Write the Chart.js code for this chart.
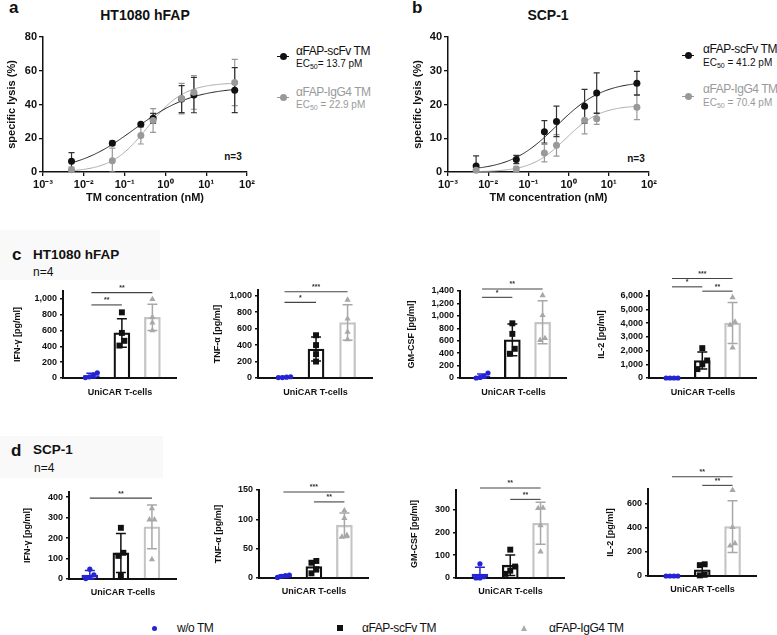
<!DOCTYPE html>
<html>
<head>
<meta charset="utf-8">
<title>UniCAR lysis and cytokine release</title>
<script src="https://cdn.jsdelivr.net/npm/chart.js@4.4.1/dist/chart.umd.min.js"></script>
<style>
  body { margin: 0; background: #fff; }
  #fig { position: relative; width: 777px; height: 635px; overflow: hidden; font-family: "Liberation Sans", Arial, sans-serif; color: #111; }
  #fig canvas { position: absolute; }
  .lbl { position: absolute; white-space: nowrap; line-height: 1; transform: translateY(-50%); }
  .mid { transform: translate(-50%, -50%); }
  .b { font-weight: bold; }
  .gray { color: #9a9a9a; }
  .leg { font-size: 12px; letter-spacing: -0.45px; }
  sub { font-size: 70%; vertical-align: -2px; line-height: 0; }
  .mk { position: absolute; }
  .hdr { position: absolute; background: #f9f9f9; }
</style>
</head>
<body>
<div id="fig">
  <div class="hdr" style="left:0;top:230px;width:160px;height:50px"></div>
  <div class="hdr" style="left:0;top:436px;width:163px;height:42px"></div>

  <!-- panel a -->
  <div class="lbl b" style="left:9px;top:7px;font-size:17px">a</div>
  <div class="lbl mid b" style="left:145px;top:15px;font-size:14px">HT1080 hFAP</div>
  <div class="mk" style="left:277px;top:56px;width:12px;height:1px;background:#111"></div>
  <div class="mk" style="left:280px;top:53px;width:7px;height:7px;border-radius:50%;background:#111"></div>
  <div class="lbl leg" style="left:296px;top:51px">αFAP-scFv TM</div>
  <div class="lbl" style="left:296px;top:64px;font-size:10px">EC<sub>50</sub>= 13.7 pM</div>
  <div class="mk" style="left:277px;top:97px;width:12px;height:1px;background:#999"></div>
  <div class="mk" style="left:280px;top:94px;width:7px;height:7px;border-radius:50%;background:#999"></div>
  <div class="lbl leg gray" style="left:296px;top:92px">αFAP-IgG4 TM</div>
  <div class="lbl gray" style="left:296px;top:105px;font-size:10px">EC<sub>50</sub> = 22.9 pM</div>
  <div class="lbl mid b" style="left:233px;top:157px;font-size:10px">n=3</div>

  <!-- panel b -->
  <div class="lbl b" style="left:412px;top:7px;font-size:17px">b</div>
  <div class="lbl mid b" style="left:548px;top:15px;font-size:14px">SCP-1</div>
  <div class="mk" style="left:682px;top:55px;width:12px;height:1px;background:#111"></div>
  <div class="mk" style="left:685px;top:52px;width:7px;height:7px;border-radius:50%;background:#111"></div>
  <div class="lbl leg" style="left:703px;top:49px">αFAP-scFv TM</div>
  <div class="lbl" style="left:703px;top:63px;font-size:10px">EC<sub>50</sub> = 41.2 pM</div>
  <div class="mk" style="left:682px;top:96px;width:12px;height:1px;background:#999"></div>
  <div class="mk" style="left:685px;top:93px;width:7px;height:7px;border-radius:50%;background:#999"></div>
  <div class="lbl leg gray" style="left:703px;top:89px">αFAP-IgG4 TM</div>
  <div class="lbl gray" style="left:703px;top:103px;font-size:10px">EC<sub>50</sub> = 70.4 pM</div>
  <div class="lbl mid b" style="left:636px;top:159px;font-size:10px">n=3</div>

  <!-- panel c / d headers -->
  <div class="lbl b" style="left:12px;top:254px;font-size:17px">c</div>
  <div class="lbl b" style="left:33px;top:255px;font-size:13.5px">HT1080 hFAP</div>
  <div class="lbl" style="left:33px;top:272px;font-size:12px">n=4</div>
  <div class="lbl b" style="left:11px;top:450px;font-size:17px">d</div>
  <div class="lbl b" style="left:33px;top:450px;font-size:13.5px">SCP-1</div>
  <div class="lbl" style="left:34px;top:468px;font-size:12px">n=4</div>

  <!-- shared legend -->
  <div class="mk" style="left:152px;top:626px;width:5px;height:5px;border-radius:50%;background:#2424d4"></div>
  <div class="lbl leg" style="left:177px;top:628px">w/o TM</div>
  <div class="mk" style="left:337px;top:625px;width:6px;height:6px;background:#111"></div>
  <div class="lbl leg" style="left:362px;top:628px">αFAP-scFv TM</div>
  <div class="mk" style="left:521px;top:625px;width:0;height:0;border-left:3.5px solid transparent;border-right:3.5px solid transparent;border-bottom:6px solid #aaa"></div>
  <div class="lbl leg" style="left:549px;top:628px">αFAP-IgG4 TM</div>
</div>

<script>
// ---- dose response (specific lysis, %) ----
const doses = [0.005, 0.05, 0.25, 0.5, 2.5, 5, 50];
const xTickValues = [0.001, 0.01, 0.1, 1, 10, 100];
const xTickLabels = ['10⁻³', '10⁻²', '10⁻¹', '10⁰', '10¹', '10²'];

const htScfv = [6.3, 17.1, 28.3, 31.8, 43.2, 45.6, 48.5];
const htScfvSd = [5.2, 1.2, 1.0, 3.0, 8.0, 10.5, 13.3];
const htIgg4 = [1.4, 6.7, 21.6, 30.5, 43.5, 47.2, 53.0];
const htIgg4Sd = [1.5, 7.4, 5.0, 7.0, 9.0, 10.0, 13.7];

const scpScfv = [1.8, 3.7, 11.9, 15.0, 19.5, 23.4, 26.3];
const scpScfvSd = [3.0, 1.2, 3.3, 4.5, 5.0, 6.0, 3.5];
const scpIgg4 = [0.5, 0.9, 5.6, 7.9, 15.3, 15.8, 19.2];
const scpIgg4Sd = [1.0, 0.8, 2.6, 3.2, 4.0, 1.7, 3.7];

// 4PL fits: bottom, top, EC50 (nM), hill slope
const htScfvFit = [0, 50.5, 0.17, 0.6];
const htIgg4Fit = [0, 53, 0.365, 0.97];
const scpScfvFit = [0.3, 27, 0.5, 0.75];
const scpIgg4Fit = [0, 19.8, 0.85, 1.0];

// ---- cytokines (pg/ml), 4 donors per group ----
const groups = ['w/o TM', 'αFAP-scFv TM', 'αFAP-IgG4 TM'];

const htIfn = [[5, 15, 40, 65], [830, 570, 470, 410], [995, 770, 700, 600]];
const htIfnSd = [30, 180, 165];
const htTnf = [[5, 15, 10, 5], [520, 400, 290, 200], [950, 720, 560, 470]];
const htTnfSd = [10, 145, 215];
const htGm = [[0, 25, 80, 10], [880, 710, 470, 390], [1330, 1010, 640, 610]];
const htGmSd = [35, 255, 345];
const htIl2 = [[0, 0, 0, 0], [2180, 1280, 1000, 650], [5880, 4100, 3870, 2220]];
const htIl2Sd = [0, 620, 1500];

const scpIfn = [[48, 20, 8, 2], [250, 128, 113, 18], [345, 290, 290, 95]];
const scpIfnSd = [22, 95, 107];
const scpTnf = [[1, 4, 5, 3], [29, 26, 15, 8], [115, 102, 73, 70]];
const scpTnfSd = [2, 9, 21];
const scpGm = [[62, 0, 0, 6], [124, 50, 32, 18], [307, 305, 230, 115]];
const scpGmSd = [30, 45, 92];
const scpIl2 = [[0, 0, 0, 0], [97, 90, 10, 5], [711, 403, 270, 250]];
const scpIl2Sd = [0, 48, 215];

// significance brackets: [from group, to group, level (pg/ml), label]
const htIfnSig = [[0, 2, 1080, '**'], [0, 1, 924, '**']];
const htTnfSig = [[0, 2, 1049, '***'], [0, 1, 919, '*']];
const htGmSig = [[0, 2, 1432, '**'], [0, 1, 1298, '*']];
const htIl2Sig = [[0, 2, 7258, '***'], [0, 1, 6654, '*'], [1, 2, 6339, '**']];
const scpIfnSig = [[0, 2, 395, '**']];
const scpTnfSig = [[0, 2, 146.5, '***'], [1, 2, 129.7, '**']];
const scpGmSig = [[0, 2, 394, '**'], [1, 2, 344, '**']];
const scpIl2Sig = [[0, 2, 822, '**'], [1, 2, 750, '**']];

const groupColors = ['#2424d4', '#111111', '#c4c4c4'];
const markColors = ['#2424d4', '#111111', '#a8a8a8'];
const markStyles = ['circle', 'rect', 'triangle'];
const markSizes = [2.6, 4.2, 3.6];
const FONT = '"Liberation Sans", Arial, sans-serif';

function addCanvas(box) {
    const c = document.createElement('canvas');
    const w = box.r - box.l + box.yw + box.padR;
    const h = box.b - box.t + box.padT + box.xh;
    c.width = w; c.height = h;
    c.style.width = w + 'px'; c.style.height = h + 'px';
    c.style.left = (box.l - box.yw) + 'px';
    c.style.top = (box.t - box.padT) + 'px';
    document.getElementById('fig').appendChild(c);
    return c;
}

const hill = (p, x) => p[0] + (p[1] - p[0]) / (1 + Math.pow(p[2] / x, p[3]));
const mean = a => a.reduce((s, v) => s + v, 0) / a.length;

// fitted curves + error bars, drawn under the points
function doseRespPlugin(series) {
    return {
        id: 'doseResp',
        beforeDatasetsDraw(chart) {
            const { ctx, scales: { x, y } } = chart;
            const lo = Math.log10(doses[0]), hi = Math.log10(doses[doses.length - 1]);
            series.forEach(s => {
                ctx.save();
                ctx.strokeStyle = s.line;
                ctx.lineWidth = 1;
                ctx.beginPath();
                for (let i = 0; i <= 150; i++) {
                    const xv = Math.pow(10, lo + (hi - lo) * i / 150);
                    const px = x.getPixelForValue(xv), py = y.getPixelForValue(hill(s.fit, xv));
                    if (i) ctx.lineTo(px, py); else ctx.moveTo(px, py);
                }
                ctx.stroke();
                ctx.strokeStyle = s.err;
                ctx.lineWidth = 1.2;
                s.vals.forEach((m, i) => {
                    const px = x.getPixelForValue(doses[i]);
                    const y1 = y.getPixelForValue(m + s.sd[i]), y2 = y.getPixelForValue(Math.max(m - s.sd[i], 0));
                    ctx.beginPath();
                    ctx.moveTo(px, y1); ctx.lineTo(px, y2);
                    ctx.moveTo(px - 3, y1); ctx.lineTo(px + 3, y1);
                    ctx.moveTo(px - 3, y2); ctx.lineTo(px + 3, y2);
                    ctx.stroke();
                });
                ctx.restore();
            });
        }
    };
}

function doseRespChart(box, series, yMax, yStep) {
    const canvas = addCanvas(box);
    const axisFont = { family: FONT, size: 11, weight: 'bold' };
    new Chart(canvas, {
        type: 'scatter',
        data: {
            datasets: series.map(s => ({
                data: doses.map((d, i) => ({ x: d, y: s.vals[i] })),
                backgroundColor: s.dot, borderColor: s.dot, borderWidth: 0,
                pointRadius: 3.5, clip: false
            }))
        },
        options: {
            responsive: false, animation: false, events: [], locale: 'en-US',
            layout: { padding: { top: box.padT, right: box.padR, left: 0, bottom: 0 } },
            plugins: { legend: { display: false }, tooltip: { enabled: false } },
            scales: {
                x: {
                    type: 'logarithmic', min: xTickValues[0], max: xTickValues[xTickValues.length - 1],
                    afterBuildTicks: s => { s.ticks = xTickValues.map(v => ({ value: v })); },
                    ticks: { callback: v => xTickLabels[xTickValues.indexOf(v)], font: axisFont, color: '#111', padding: 2, maxRotation: 0, autoSkip: false },
                    grid: { drawOnChartArea: false, tickLength: 4, color: '#111', lineWidth: 1.3 },
                    border: { color: '#111', width: 1.5 },
                    title: { display: true, text: 'TM concentration (nM)', font: axisFont, color: '#111', padding: 0 },
                    afterFit: s => { s.height = box.xh; }
                },
                y: {
                    min: 0, max: yMax,
                    ticks: { stepSize: yStep, font: axisFont, color: '#111', padding: 2, autoSkip: false },
                    grid: { drawOnChartArea: false, tickLength: 4, color: '#111', lineWidth: 1.3 },
                    border: { color: '#111', width: 1.5 },
                    title: { display: true, text: 'specific lysis (%)', font: axisFont, color: '#111', padding: 0 },
                    afterFit: s => { s.width = box.yw; }
                }
            }
        },
        plugins: [doseRespPlugin(series)]
    });
}

// spread overlapping replicates sideways, like a scatter dot plot
function spread(vals, yMax, gap) {
    const idx = vals.map((v, i) => i).sort((p, q) => vals[p] - vals[q]);
    const off = vals.map(() => 0);
    let cluster = [idx[0]];
    const flush = () => cluster.forEach((k, n) => { off[k] = (n - (cluster.length - 1) / 2) * gap; });
    for (let n = 1; n < idx.length; n++) {
        if (vals[idx[n]] - vals[idx[n - 1]] < 0.06 * yMax) cluster.push(idx[n]);
        else { flush(); cluster = [idx[n]]; }
    }
    flush();
    return off;
}

function cytoPlugin(means, sd, sig) {
    return {
        id: 'cyto',
        afterDatasetDraw(chart, args) {
            if (args.meta.type !== 'bar') return;
            const { ctx, scales: { x, y } } = chart;
            ctx.save();
            ctx.lineWidth = 1.5;
            means.forEach((m, g) => {
                if (!sd[g]) return;
                const px = x.getPixelForValue(g);
                const y1 = y.getPixelForValue(m + sd[g]), y2 = y.getPixelForValue(Math.max(m - sd[g], 0));
                ctx.strokeStyle = markColors[g];
                ctx.beginPath();
                ctx.moveTo(px, y1); ctx.lineTo(px, y2);
                ctx.moveTo(px - 5, y1); ctx.lineTo(px + 5, y1);
                ctx.moveTo(px - 5, y2); ctx.lineTo(px + 5, y2);
                ctx.stroke();
            });
            ctx.restore();
        },
        afterDraw(chart) {
            const { ctx, scales: { x, y } } = chart;
            ctx.save();
            ctx.strokeStyle = '#444';
            ctx.fillStyle = '#333';
            ctx.lineWidth = 1.1;
            ctx.font = 'bold 7px ' + FONT;
            ctx.textAlign = 'center';
            ctx.textBaseline = 'bottom';
            sig.forEach(([a, b, lvl, txt]) => {
                const x1 = x.getPixelForValue(a), x2 = x.getPixelForValue(b), py = y.getPixelForValue(lvl);
                ctx.beginPath();
                ctx.moveTo(x1, py); ctx.lineTo(x2, py);
                ctx.stroke();
                ctx.fillText(txt, (x1 + x2) / 2, py - 1);
            });
            ctx.restore();
        }
    };
}

function cytoChart(box, reps, sd, sig, yMax, yStep, yTitle) {
    const canvas = addCanvas(box);
    const means = reps.map(mean);
    const tickFont = { family: FONT, size: 9, weight: 'bold' };
    const gaps = [0.13, 0.16, 0.16];
    const points = reps.map((vals, g) => {
        const off = spread(vals, yMax, gaps[g]);
        return {
            type: 'scatter',
            data: vals.map((v, j) => ({ x: g + off[j], y: v })),
            pointStyle: markStyles[g], pointRadius: markSizes[g],
            backgroundColor: markColors[g], borderColor: markColors[g], borderWidth: 0,
            order: 1, clip: false
        };
    });
    new Chart(canvas, {
        type: 'bar',
        data: {
            datasets: [{
                type: 'bar', label: 'mean',
                data: means.map((m, g) => ({ x: g, y: m })),
                backgroundColor: 'rgba(255,255,255,0)', borderColor: groupColors,
                borderWidth: 1.6, barThickness: 16, order: 2
            }].concat(points)
        },
        options: {
            responsive: false, animation: false, events: [], locale: 'en-US',
            layout: { padding: { top: box.padT, right: box.padR, left: 0, bottom: 0 } },
            plugins: { legend: { display: false }, tooltip: { enabled: false } },
            scales: {
                x: {
                    type: 'linear', min: box.xmin, max: 2.8, offset: false,
                    ticks: { display: false },
                    grid: { display: false, offset: false },
                    border: { color: '#111', width: 2 },
                    title: { display: true, text: 'UniCAR T-cells', font: tickFont, color: '#111', padding: 0 },
                    afterFit: s => { s.height = box.xh; }
                },
                y: {
                    min: 0, max: yMax,
                    afterBuildTicks: s => {
                        const t = [];
                        for (let v = 0; v <= yMax; v += yStep) t.push({ value: v });
                        s.ticks = t;
                    },
                    ticks: { font: tickFont, color: '#111', padding: 3, autoSkip: false },
                    grid: { drawOnChartArea: false, tickLength: 3, color: '#111', lineWidth: 1.5 },
                    border: { color: '#111', width: 2 },
                    title: { display: true, text: yTitle, font: tickFont, color: '#111', padding: 0 },
                    afterFit: s => { s.width = box.yw; }
                }
            }
        },
        plugins: [cytoPlugin(means, sd, sig)]
    });
}

doseRespChart({ l: 43, t: 37, r: 247, b: 172, yw: 38, xh: 33, padT: 10, padR: 14 }, [
    { vals: htIgg4, sd: htIgg4Sd, fit: htIgg4Fit, dot: '#999', line: '#aaa', err: '#999' },
    { vals: htScfv, sd: htScfvSd, fit: htScfvFit, dot: '#111', line: '#222', err: '#333' }
], 80, 20);

doseRespChart({ l: 448, t: 37, r: 649, b: 172, yw: 37, xh: 33, padT: 10, padR: 14 }, [
    { vals: scpIgg4, sd: scpIgg4Sd, fit: scpIgg4Fit, dot: '#999', line: '#aaa', err: '#999' },
    { vals: scpScfv, sd: scpScfvSd, fit: scpScfvFit, dot: '#111', line: '#222', err: '#333' }
], 40, 10);

cytoChart({ l: 63, t: 291, r: 177, b: 378, yw: 51, xh: 20, padT: 26, padR: 4, xmin: -0.93 }, htIfn, htIfnSd, htIfnSig, 1100, 200, 'IFN-γ [pg/ml]');
cytoChart({ l: 258, t: 290, r: 373, b: 378, yw: 46, xh: 20, padT: 26, padR: 4, xmin: -0.84 }, htTnf, htTnfSd, htTnfSig, 1070, 200, 'TNF-α [pg/ml]');
cytoChart({ l: 460, t: 291, r: 567, b: 378, yw: 54, xh: 20, padT: 26, padR: 4, xmin: -0.73 }, htGm, htGmSd, htGmSig, 1400, 200, 'GM-CSF [pg/ml]');
cytoChart({ l: 649, t: 291, r: 757, b: 378, yw: 53, xh: 20, padT: 26, padR: 4, xmin: -0.76 }, htIl2, htIl2Sd, htIl2Sig, 6350, 1000, 'IL-2 [pg/ml]');

cytoChart({ l: 69, t: 492, r: 177, b: 579, yw: 47, xh: 19, padT: 26, padR: 4, xmin: -0.67 }, scpIfn, scpIfnSd, scpIfnSig, 425, 100, 'IFN-γ [pg/ml]');
cytoChart({ l: 259, t: 490, r: 369, b: 578, yw: 46, xh: 19, padT: 26, padR: 4, xmin: -0.8 }, scpTnf, scpTnfSd, scpTnfSig, 150, 50, 'TNF-α [pg/ml]');
cytoChart({ l: 456, t: 490, r: 565, b: 578, yw: 47, xh: 19, padT: 26, padR: 4, xmin: -0.79 }, scpGm, scpGmSd, scpGmSig, 385, 100, 'GM-CSF [pg/ml]');
cytoChart({ l: 648, t: 489, r: 757, b: 576, yw: 43, xh: 19, padT: 26, padR: 4, xmin: -0.79 }, scpIl2, scpIl2Sd, scpIl2Sig, 720, 200, 'IL-2 [pg/ml]');
</script>
</body>
</html>
